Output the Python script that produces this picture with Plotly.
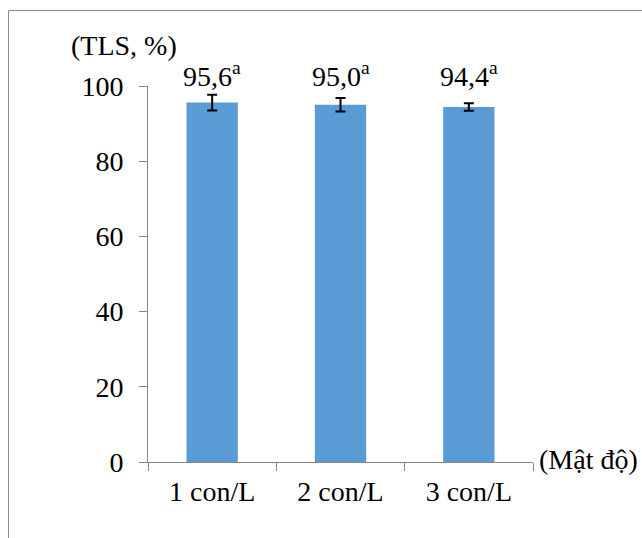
import plotly.graph_objects as go

categories = ["1 con/L", "2 con/L", "3 con/L"]
values = [95.6, 95.0, 94.4]
errors = [2.1, 1.8, 1.0]
letters = ["a", "a", "a"]
y_ticks = [0, 20, 40, 60, 80, 100]

FONT = "Liberation Serif"
FS = 28
W, H = 642, 538
L, R, T, B = 148, 109, 86, 76
pw, ph = W - L - R, H - T - B

def px_to_paper_x(px):
    return (px - L) / pw

def px_to_paper_y(py):
    return (H - B - py) / ph

fig = go.Figure()
fig.add_trace(go.Bar(
    x=categories, y=values, width=0.4,
    marker=dict(color="#5B9BD5", line=dict(width=0)),
    error_y=dict(type="data", array=errors, visible=True,
                 color="black", thickness=2, width=5),
    hoverinfo="skip",
))

for c, v, l in zip(categories, values, letters):
    fig.add_annotation(x=c, y=px_to_paper_y(74), xref="x", yref="paper",
                       text=f"{v:.1f}".replace(".", ",") + f"<sup>{l}</sup>",
                       showarrow=False, yanchor="middle",
                       font=dict(family=FONT, size=FS, color="black"))

fig.add_annotation(x=px_to_paper_x(124), y=px_to_paper_y(45), xref="paper", yref="paper",
                   text="(TLS, %)", showarrow=False, xanchor="center", yanchor="middle",
                   font=dict(family=FONT, size=FS, color="black"))
fig.add_annotation(x=px_to_paper_x(537), y=px_to_paper_y(459), xref="paper", yref="paper",
                   text="(Mật độ)", showarrow=False, xanchor="left", yanchor="middle",
                   font=dict(family=FONT, size=FS, color="black"))

fig.add_shape(type="rect", xref="paper", yref="paper",
              x0=px_to_paper_x(8.5), x1=px_to_paper_x(700),
              y0=px_to_paper_y(600), y1=px_to_paper_y(10.5),
              line=dict(color="#8C8C8C", width=1), fillcolor="rgba(0,0,0,0)", layer="below")

fig.update_layout(
    width=W, height=H,
    margin=dict(l=L, r=R, t=T, b=B),
    paper_bgcolor="white", plot_bgcolor="white",
    showlegend=False,
    font=dict(family=FONT, size=FS, color="black"),
    bargap=0.6,
)
fig.update_xaxes(showline=True, linecolor="#868686", linewidth=1,
                 ticks="outside", tickson="boundaries", ticklen=8, tickcolor="#868686",
                 showgrid=False, tickfont=dict(family=FONT, size=FS, color="black"),
                 ticklabelstandoff=4)
fig.update_yaxes(range=[0, 100], tickvals=y_ticks, showline=True, linecolor="#868686",
                 linewidth=1, ticks="outside", ticklen=8, tickcolor="#868686",
                 showgrid=False, zeroline=False,
                 tickfont=dict(family=FONT, size=FS, color="black"),
                 ticklabelstandoff=10)

fig.write_html("out.html", config={"displayModeBar": False},
               post_script="document.body.style.margin='0';")
